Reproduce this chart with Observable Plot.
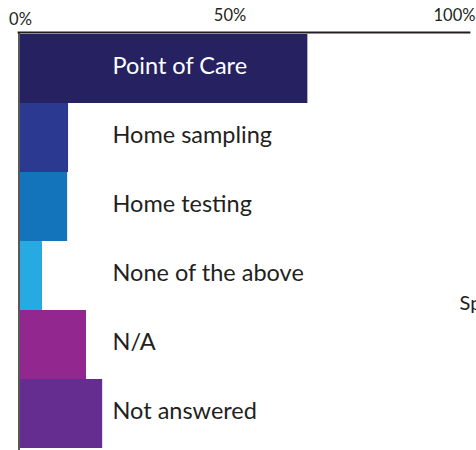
<!DOCTYPE html>
<html>
<head>
<meta charset="utf-8">
<script src="https://cdn.jsdelivr.net/npm/d3@7"></script>
<script src="https://cdn.jsdelivr.net/npm/@observablehq/plot@0.6"></script>
<style>
  html, body { margin: 0; padding: 0; background: #fff; }
  #chart { width: 476px; height: 450px; overflow: hidden; }
</style>
</head>
<body>
<div id="chart"></div>
<script>
const categories = ["Point of Care", "Home sampling", "Home testing", "None of the above", "N/A", "Not answered"];
const values = [64, 10.7, 10.5, 4.9, 14.7, 18.3];
const colors = ["#262262", "#2b3990", "#1374bc", "#27aae1", "#92278f", "#662d91"];
const labelColors = ["#ffffff", "#231f20", "#231f20", "#231f20", "#231f20", "#231f20"];
const tickValues = [0, 50, 100];
const tickLabels = ["0%", "50%", "100%"];
const clippedNote = "Sp";

const data = categories.map((c, i) => ({category: c, value: values[i], color: colors[i], labelColor: labelColors[i]}));
const fmt = d => tickLabels[tickValues.indexOf(d)];
const font = "Lato, 'Open Sans', sans-serif";

const chart = Plot.plot({
  width: 476,
  height: 450,
  marginTop: 32,
  marginBottom: 0,
  marginLeft: 20,
  marginRight: 7,
  style: {fontFamily: font, color: "#231f20", background: "#fff"},
  x: {domain: [0, 100], axis: null},
  y: {domain: categories, padding: 0, axis: null},
  marks: [
    Plot.barX(data, {x: "value", y: "category", fill: "color"}),
    Plot.frame({anchor: "top", stroke: "#231f20", strokeWidth: 1.8, insetLeft: -2}),
    Plot.ruleX([0], {dx: -1.5, stroke: "#231f20", strokeWidth: 1.5}),
    Plot.axisX({anchor: "top", ticks: [tickValues[0]], tickSize: 0, tickFormat: fmt, label: null, fontSize: 16.5, dy: 1}),
    Plot.axisX({anchor: "top", ticks: tickValues.slice(1), tickSize: 0, tickFormat: fmt, label: null, fontSize: 16.5, dx: -15, dy: -3}),
    Plot.text(data, {x: 0, y: "category", text: "category", fill: "labelColor", textAnchor: "start", dx: 92, dy: -3, fontSize: 23.5}),
    Plot.text([clippedNote], {x: 100, y: [categories[3]], text: d => d, textAnchor: "start", dx: -10, dy: 28, fontSize: 20, fill: "#231f20"})
  ]
});
document.getElementById("chart").appendChild(chart);
</script>
</body>
</html>
